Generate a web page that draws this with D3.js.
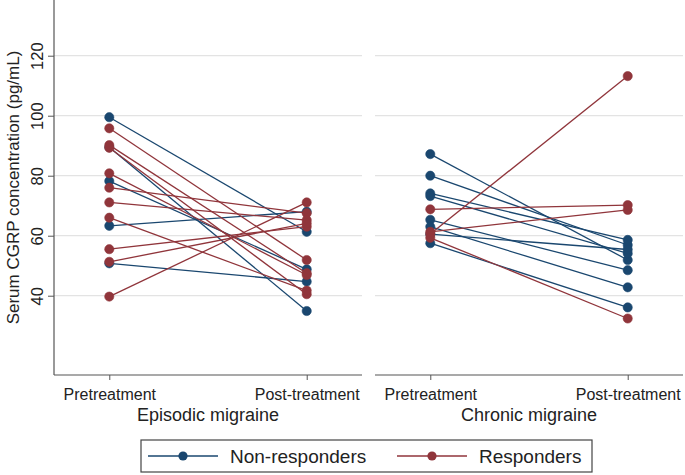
<!DOCTYPE html>
<html>
<head>
<meta charset="utf-8">
<script src="https://cdn.jsdelivr.net/npm/d3@7"></script>
<style>
  html, body { margin: 0; padding: 0; background: #fff; }
  svg { display: block; font-family: "Liberation Sans", Arial, sans-serif; }
</style>
</head>
<body>
<svg id="chart" width="685" height="475"></svg>
<script>
// ---------- data ----------
const panels = ["Episodic migraine", "Chronic migraine"];
const timepoints = ["Pretreatment", "Post-treatment"];
const groups = ["Non-responders", "Responders"];
const yTicks = [40, 60, 80, 100, 120];

const episodicNonPre  = [99.5, 89.5, 78.2, 63.3, 50.8];
const episodicNonPost = [61.3, 34.9, 48.8, 68.0, 44.7];
const episodicRespPre  = [95.8, 90.2, 89.3, 80.8, 76.0, 71.1, 66.0, 55.5, 51.3, 39.7];
const episodicRespPost = [51.9, 47.5, 40.5, 46.9, 67.5, 65.2, 41.7, 63.0, 64.1, 71.1];

const chronicNonPre  = [87.2, 80.0, 74.1, 73.2, 65.3, 63.0, 60.5, 57.5];
const chronicNonPost = [51.9, 56.9, 58.6, 54.1, 48.5, 42.8, 55.4, 36.1];
const chronicRespPre  = [68.8, 61.3, 60.6, 59.3];
const chronicRespPost = [70.2, 68.6, 113.2, 32.4];

// ---------- layout ----------
const colors = { "Non-responders": "#1a476f", "Responders": "#90353b" };
const svg = d3.select("#chart");
const plotTop = 0, plotBottom = 375;
const panelX = [[54, 362], [375, 683]];

const y = d3.scaleLinear().domain([13.57, 138.57]).range([plotBottom, plotTop]);

const panelData = [
  { name: panels[0], series: [
    { group: groups[0], pre: episodicNonPre, post: episodicNonPost },
    { group: groups[1], pre: episodicRespPre, post: episodicRespPost } ] },
  { name: panels[1], series: [
    { group: groups[0], pre: chronicNonPre, post: chronicNonPost },
    { group: groups[1], pre: chronicRespPre, post: chronicRespPost } ] }
];

panelData.forEach((p, i) => {
  const [x0, x1] = panelX[i];
  const x = d3.scalePoint().domain(timepoints).range([x0, x1]).padding(0.28);
  const g = svg.append("g");

  // gridlines
  g.selectAll("line.grid").data(yTicks).enter().append("line")
    .attr("x1", x0).attr("x2", x1)
    .attr("y1", d => y(d)).attr("y2", d => y(d))
    .attr("stroke", "#e3e3e3").attr("stroke-width", 1.3);

  // x axis
  const xAxis = d3.axisBottom(x).tickSize(5).tickPadding(9);
  const gx = g.append("g").attr("transform", `translate(0,${plotBottom})`).call(xAxis);
  gx.select(".domain").attr("d", `M${x0},0H${x1}`).attr("stroke", "#555").attr("stroke-width", 1.2);
  gx.selectAll(".tick line").attr("stroke", "#555");
  gx.selectAll(".tick text").attr("fill", "#222").style("font-size", "16px")
    .style("font-family", "'Liberation Sans', Arial, sans-serif");

  // panel title
  g.append("text").attr("x", (x0 + x1) / 2).attr("y", 421)
    .attr("text-anchor", "middle").attr("fill", "#222").style("font-size", "18px")
    .text(p.name);

  // y axis only on first panel
  if (i === 0) {
    const yAxis = d3.axisLeft(y).tickValues(yTicks).tickSize(6).tickPadding(4);
    const gy = g.append("g").attr("transform", `translate(${x0},0)`).call(yAxis);
    gy.select(".domain").attr("d", `M0,${plotTop}V${plotBottom}`).attr("stroke", "#555").attr("stroke-width", 1.2);
    gy.selectAll(".tick line").attr("stroke", "#555");
    gy.selectAll(".tick text").attr("fill", "#222").style("font-size", "16.5px")
      .style("font-family", "'Liberation Sans', Arial, sans-serif")
      .attr("x", null).attr("y", null).attr("dy", null)
      .attr("text-anchor", "middle")
      .attr("transform", "translate(-11,0) rotate(-90)");
  }

  // lines and markers
  p.series.forEach(s => {
    const col = colors[s.group];
    const pairs = s.pre.map((v, k) => [v, s.post[k]]);
    g.selectAll(null).data(pairs).enter().append("line")
      .attr("x1", x(timepoints[0])).attr("x2", x(timepoints[1]))
      .attr("y1", d => y(d[0])).attr("y2", d => y(d[1]))
      .attr("stroke", col).attr("stroke-width", 1.3);
    const pts = [];
    pairs.forEach(d => { pts.push([timepoints[0], d[0]]); pts.push([timepoints[1], d[1]]); });
    g.selectAll(null).data(pts).enter().append("circle")
      .attr("cx", d => x(d[0])).attr("cy", d => y(d[1])).attr("r", 4.6)
      .attr("fill", col).attr("stroke", col).attr("stroke-width", 0.6);
  });
});

// y axis title
svg.append("text")
  .attr("transform", `translate(13,${(plotTop + plotBottom) / 2}) rotate(-90)`)
  .attr("text-anchor", "middle").attr("dy", "0.35em")
  .attr("fill", "#222").style("font-size", "17px")
  .text("Serum CGRP concentration (pg/mL)");

// legend
const leg = svg.append("g");
leg.append("rect").attr("x", 141).attr("y", 440).attr("width", 451).attr("height", 32)
  .attr("fill", "#fff").attr("stroke", "#444").attr("stroke-width", 1.2);
const legItems = [{ g: groups[0], x: 148 }, { g: groups[1], x: 397 }];
legItems.forEach(it => {
  const col = colors[it.g];
  leg.append("line").attr("x1", it.x).attr("x2", it.x + 70).attr("y1", 456).attr("y2", 456)
    .attr("stroke", col).attr("stroke-width", 1.3);
  leg.append("circle").attr("cx", it.x + 35).attr("cy", 456).attr("r", 4.6).attr("fill", col);
  leg.append("text").attr("x", it.x + 82).attr("y", 456).attr("dy", "0.36em")
    .attr("fill", "#222").style("font-size", "19px").text(it.g);
});
</script>
</body>
</html>
